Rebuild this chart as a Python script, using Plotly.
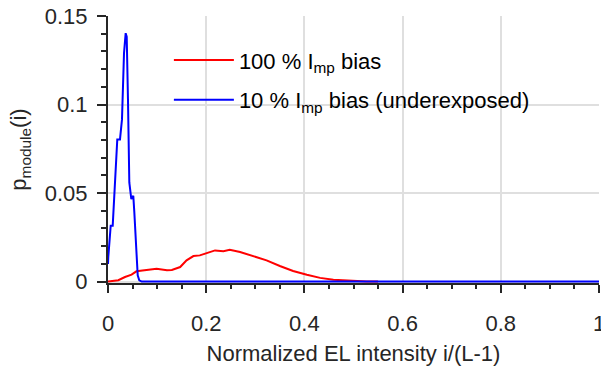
import plotly.graph_objects as go

# Blue: 10 % Imp bias (underexposed)
blue_x = [0.0, 0.0006, 0.0055, 0.0096, 0.0189, 0.0244, 0.0285, 0.0326, 0.0360, 0.0381,
          0.0407, 0.0434, 0.0475, 0.0515, 0.0536, 0.0570, 0.0605, 0.0637, 0.0686, 0.1, 0.5, 1.0]
blue_y = [0.0100, 0.0139, 0.0316, 0.0316, 0.0803, 0.0803, 0.0916, 0.1290, 0.1403, 0.1384,
          0.1028, 0.0560, 0.0466, 0.0485, 0.0392, 0.0169, 0.0035, 0.0007, 0.0, 0.0, 0.0, 0.0]

# Red: 100 % Imp bias (zero beyond ~0.55, hidden under the blue line there)
red_x = [0.0, 0.021, 0.0346, 0.048, 0.058, 0.079, 0.099, 0.120, 0.130, 0.147, 0.160, 0.174,
         0.187, 0.201, 0.218, 0.235, 0.248, 0.269, 0.296, 0.323, 0.350, 0.377, 0.405,
         0.432, 0.459, 0.500, 0.527, 0.55]
red_y = [0.0, 0.0008, 0.0026, 0.0039, 0.0058, 0.0066, 0.0073, 0.0064, 0.0066, 0.0082,
         0.0120, 0.0144, 0.0148, 0.0161, 0.0176, 0.0172, 0.0180, 0.0167, 0.0144, 0.0120,
         0.0088, 0.0060, 0.0039, 0.0021, 0.0011, 0.0003, 0.0, 0.0]

names = ["100 % I<sub>mp</sub> bias", "10 % I<sub>mp</sub> bias (underexposed)"]

x_ticks = [0, 0.2, 0.4, 0.6, 0.8, 1]
x_labels = ["0", "0.2", "0.4", "0.6", "0.8", "1"]
y_ticks = [0, 0.05, 0.1, 0.15]
y_labels = ["0", "0.05", "0.1", "0.15"]

FONT = "Liberation Sans, Arial, sans-serif"
AX = "#262626"
GRID = "#dfdfdf"
FS = 22

fig = go.Figure()
fig.add_trace(go.Scatter(x=red_x, y=red_y, mode="lines", name=names[0], legendgroup="a",
                         line=dict(color="#ff0000", width=2)))
fig.add_trace(go.Scatter(x=blue_x, y=blue_y, mode="lines", name=names[1], legendgroup="b",
                         line=dict(color="#0000ff", width=2)))

fig.update_layout(
    width=601, height=369,
    margin=dict(l=108, r=2, t=16, b=86, autoexpand=False),
    paper_bgcolor="white", plot_bgcolor="white",
    font=dict(family=FONT, size=FS, color=AX),
    showlegend=True,
    legend=dict(x=0.124, y=0.913, xanchor="left", yanchor="top",
                bgcolor="rgba(0,0,0,0)", borderwidth=0, tracegroupgap=8,
                font=dict(size=FS, color="#000000"), itemwidth=60),
)
fig.update_xaxes(
    range=[0, 1], tickvals=x_ticks, ticktext=x_labels, showgrid=True, gridcolor=GRID, gridwidth=1.5,
    showline=True, linecolor=AX, linewidth=2, ticks="outside", ticklen=8, tickwidth=2,
    tickcolor=AX, zeroline=False, ticklabelstandoff=12, ticklabeloverflow="allow", automargin=False,
    minor=dict(dtick=0.05, tick0=0, ticks="outside", ticklen=4, tickwidth=2, tickcolor=AX, showgrid=False),
    title=dict(text="Normalized EL intensity i/(L-1)", font=dict(size=FS, color=AX), standoff=10),
    tickfont=dict(size=FS, color=AX),
)
fig.update_yaxes(
    range=[-0.0008, 0.15], tickvals=y_ticks, ticktext=y_labels, showgrid=True, gridcolor=GRID, gridwidth=1.5,
    showline=True, linecolor=AX, linewidth=2, ticks="outside", ticklen=9, tickwidth=2,
    tickcolor=AX, zeroline=False, ticklabelstandoff=5, automargin=False,
    minor=dict(dtick=0.01, tick0=0, ticks="outside", ticklen=5, tickwidth=2, tickcolor=AX, showgrid=False),
    title=dict(text="p<sub>module</sub>(i)", font=dict(size=FS, color=AX), standoff=12),
    tickfont=dict(size=FS, color=AX),
)

fig.write_html("out.html")
